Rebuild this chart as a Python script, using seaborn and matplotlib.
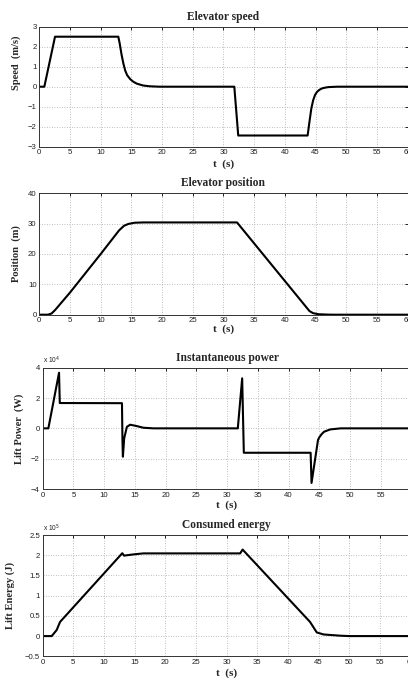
import matplotlib
matplotlib.use("Agg")
import matplotlib.pyplot as plt
import seaborn as sns
import pandas as pd
from matplotlib.ticker import FuncFormatter, MultipleLocator

# ---------------- data ----------------
speed_t = [0, 0.82, 2.56, 12.87, 13.1, 13.4, 13.7, 14.0, 14.3, 14.8, 15.3, 15.9,
           16.9, 18.0, 19.6, 31.76, 32.4, 43.7, 44.0, 44.3, 44.6, 44.9, 45.2, 45.6,
           46.0, 46.5, 47.1, 48.5, 60]
speed_v = [0, 0, 2.5, 2.5, 2.15, 1.6, 1.15, 0.8, 0.58, 0.38, 0.25, 0.15,
           0.06, 0.02, 0, 0, -2.44, -2.44, -1.75, -1.1, -0.68, -0.42, -0.27, -0.16,
           -0.09, -0.05, -0.02, 0, 0]

pos_t = [0, 1.4, 2.0, 2.6, 5, 10, 13, 13.8, 14.5, 15.5, 17, 32.2, 44.0, 44.6,
         45.5, 47, 48, 60]
pos_v = [0, 0, 0.4, 1.6, 7.3, 20.0, 27.8, 29.3, 29.9, 30.3, 30.4, 30.4, 1.2, 0.5,
         0.15, 0.03, 0, 0]

power_t = [0, 0.92, 2.66, 2.78, 12.9, 12.98, 13.05, 13.26, 13.7, 14.24, 15.3, 16.4,
           18.0, 31.75, 32.46, 32.73, 43.6, 43.75, 44.8, 45.0, 45.4, 45.8, 46.8,
           48.5, 60]
power_v = [0, 0, 36700, 16700, 16600, -8000, -18700, -6600, 1000, 2400, 1500, 400,
           0, 0, 33000, -16100, -16100, -36000, -7700, -6000, -3800, -2200, -700,
           0, 0]

energy_t = [0, 1.47, 2.28, 2.83, 12.98, 13.26, 14.8, 16.4, 32.2, 32.6, 43.6, 44.7,
            45.8, 48.5, 50, 60]
energy_v = [0, 0, 15000, 35000, 205000, 199000, 202000, 204500, 204500, 214000,
            35000, 9000, 4000, 1000, 0, 0]

titles = ["Elevator speed", "Elevator position", "Instantaneous power", "Consumed energy"]
ylabels = ["Speed  (m/s)", "Position  (m)", "Lift Power  (W)", "Lift Energy (J)"]
xlabel = "t  (s)"

# ---------------- styling ----------------
sns.set_theme(style="white")
plt.rcParams["font.family"] = ["Liberation Sans", "DejaVu Sans"]
serif = ["Liberation Serif", "DejaVu Serif"]

W, H = 408, 679
fig = plt.figure(figsize=(W / 100, H / 100), dpi=100)
fig.patch.set_facecolor("white")


def px_axes(left, right, top, bottom):
    return fig.add_axes([left / W, 1 - bottom / H, (right - left) / W, (bottom - top) / H])


boxes = [(39.3, 407.7, 26.7, 146.7),
         (39.3, 407.7, 193.3, 314.7),
         (42.7, 411.4, 367.7, 489.0),
         (42.7, 410.6, 535.0, 656.3)]

series = [(speed_t, speed_v), (pos_t, pos_v), (power_t, power_v), (energy_t, energy_v)]
ylims = [(-3, 3), (0, 40), (-40000, 40000), (-50000, 250000)]
ysteps = [1, 10, 20000, 50000]
scales = [1, 1, 1e4, 1e5]
offsets = [None, None, "4", "5"]
ylab_y = [0.70, 0.5, 0.5, 0.5]
ylab_x = [-0.0505, -0.0505, -0.0507, -0.075]
xlab_y = [-0.105, -0.078, -0.098, -0.103]

for i in range(4):
    ax = px_axes(*boxes[i])
    t, v = series[i]
    df = pd.DataFrame({"t": t, "v": v})
    sns.lineplot(data=df, x="t", y="v", ax=ax, color="black", linewidth=1.5,
                 sort=False, estimator=None)
    ax.set_xlim(0, 60)
    ax.set_ylim(*ylims[i])
    ax.xaxis.set_major_locator(MultipleLocator(5))
    ax.yaxis.set_major_locator(MultipleLocator(ysteps[i]))
    sc = scales[i]
    ax.yaxis.set_major_formatter(FuncFormatter(lambda y, p, sc=sc: f"{y / sc:g}".replace("-", "\u2212")))
    ax.grid(True, linestyle=(0, (1, 2)), color="#a8a8a8", linewidth=0.6)
    ax.tick_params(direction="in", top=True, right=True, length=2.5, width=0.6,
                   labelsize=5.6, pad=2, colors="black", labelcolor="#222222")
    for s in ax.spines.values():
        s.set_color("#333333")
        s.set_linewidth(0.7)
    ax.set_title(titles[i], fontsize=8.3, fontweight="bold", family=serif, pad=5)
    ax.set_ylabel(ylabels[i], fontsize=7.6, fontweight="bold", family=serif)
    ax.set_xlabel(xlabel, fontsize=8, fontweight="bold", family=serif)
    ax.yaxis.set_label_coords(ylab_x[i], ylab_y[i])
    ax.xaxis.set_label_coords(0.5, xlab_y[i])
    if offsets[i]:
        ax.text(0.0, 1.012, "x 10$^{%s}$" % offsets[i], transform=ax.transAxes,
                fontsize=4.8, ha="left", va="bottom", color="#222222")

fig.savefig("out.png", dpi=100, facecolor="white")
